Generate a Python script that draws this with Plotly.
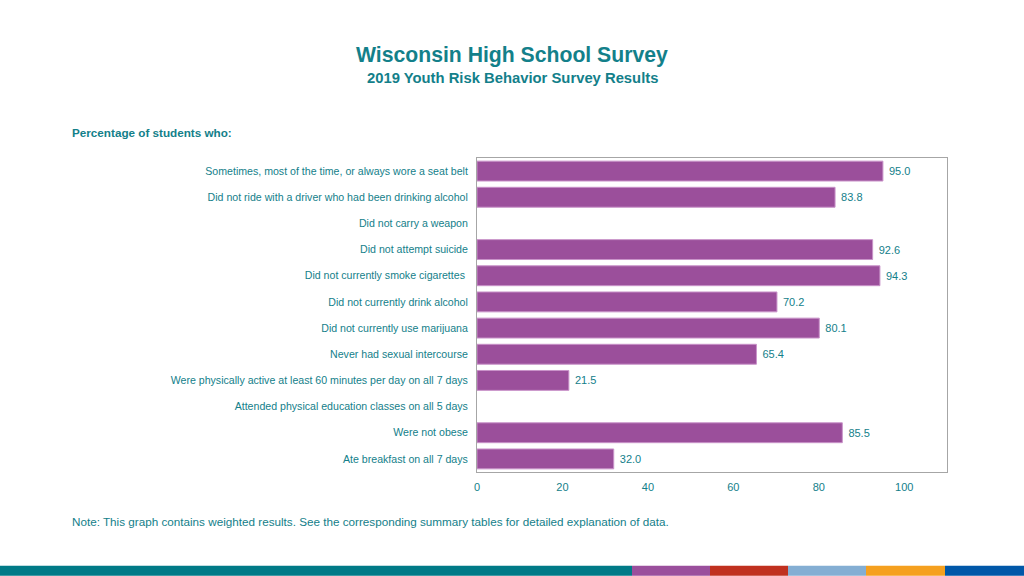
import plotly.graph_objects as go

categories = [
    "Sometimes, most of the time, or always wore a seat belt",
    "Did not ride with a driver who had been drinking alcohol",
    "Did not carry a weapon",
    "Did not attempt suicide",
    "Did not currently smoke cigarettes ",
    "Did not currently drink alcohol",
    "Did not currently use marijuana",
    "Never had sexual intercourse",
    "Were physically active at least 60 minutes per day on all 7 days",
    "Attended physical education classes on all 5 days",
    "Were not obese",
    "Ate breakfast on all 7 days",
]
values = [95.0, 83.8, None, 92.6, 94.3, 70.2, 80.1, 65.4, 21.5, None, 85.5, 32.0]
x_ticks = [0, 20, 40, 60, 80, 100]

TEAL = "#13808A"
PURPLE = "#9B4F9B"
FONT = "Liberation Sans, Arial, sans-serif"

FW, FH = 1024, 576

fig = go.Figure(go.Bar(
    y=categories, x=values, orientation="h",
    marker=dict(color=PURPLE, line=dict(color="#C993C9", width=1)),
    text=[f" {v:.1f}" if v is not None else "" for v in values],
    textposition="outside", cliponaxis=False,
    textfont=dict(color=TEAL, size=11, family=FONT),
    hoverinfo="skip",
))

L, R, T, B = 477, 947, 157.5, 472
W = R - L
H = B - T

def px(xp):
    return (xp - L) / W

def py(yp):
    return (B - yp) / H

shapes = []
stripe = [(0, 632, "#007A87"), (632, 710, "#9A4F9C"), (710, 788, "#C0301F"),
          (788, 866, "#84AED3"), (866, 945, "#F5A01F"), (945, 1024, "#0057A8")]
for x0, x1, c in stripe:
    shapes.append(dict(type="rect", xref="paper", yref="paper",
                       x0=px(x0), x1=px(x1), y0=py(576), y1=py(566),
                       fillcolor=c, line=dict(width=0), layer="above"))

annotations = [
    dict(text="<b>Wisconsin High School Survey</b>", xref="paper", yref="paper",
         x=px(512), y=py(54), showarrow=False, xanchor="center", yanchor="middle",
         font=dict(size=21.2, color=TEAL, family=FONT)),
    dict(text="<b>2019 Youth Risk Behavior Survey Results</b>", xref="paper", yref="paper",
         x=px(512), y=py(77), showarrow=False, xanchor="center", yanchor="middle",
         font=dict(size=14.8, color=TEAL, family=FONT)),
    dict(text="<b>Percentage of students who:</b>", xref="paper", yref="paper",
         x=px(70), y=py(132), showarrow=False, xanchor="left", yanchor="middle",
         font=dict(size=11.7, color=TEAL, family=FONT)),
    dict(text="Note: This graph contains weighted results. See the corresponding summary tables for detailed explanation of data.",
         xref="paper", yref="paper",
         x=px(70), y=py(522), showarrow=False, xanchor="left", yanchor="middle",
         font=dict(size=11.7, color=TEAL, family=FONT)),
]

fig.update_layout(
    width=FW, height=FH,
    margin=dict(l=L, r=FW - R, t=T, b=FH - B, pad=0),
    paper_bgcolor="white", plot_bgcolor="white",
    showlegend=False, bargap=0.24,
    font=dict(family=FONT, color=TEAL, size=11),
    shapes=shapes, annotations=annotations,
    xaxis=dict(range=[0, 110], tickvals=x_ticks, showgrid=False, zeroline=False,
               showline=True, linecolor="#A6A6A6", mirror=True, linewidth=1,
               ticks="outside", ticklen=5, tickcolor="rgba(0,0,0,0)",
               tickfont=dict(size=11, color=TEAL), fixedrange=True),
    yaxis=dict(autorange="reversed", showgrid=False, zeroline=False,
               showline=True, linecolor="#A6A6A6", mirror=True, linewidth=1,
               ticks="outside", ticklen=6, tickcolor="rgba(0,0,0,0)",
               tickfont=dict(size=10.6, color=TEAL), fixedrange=True),
)

fig.write_html(
    "out.html",
    config={"displayModeBar": False},
    post_script="document.body.style.margin='0';document.body.style.overflow='hidden';",
)
